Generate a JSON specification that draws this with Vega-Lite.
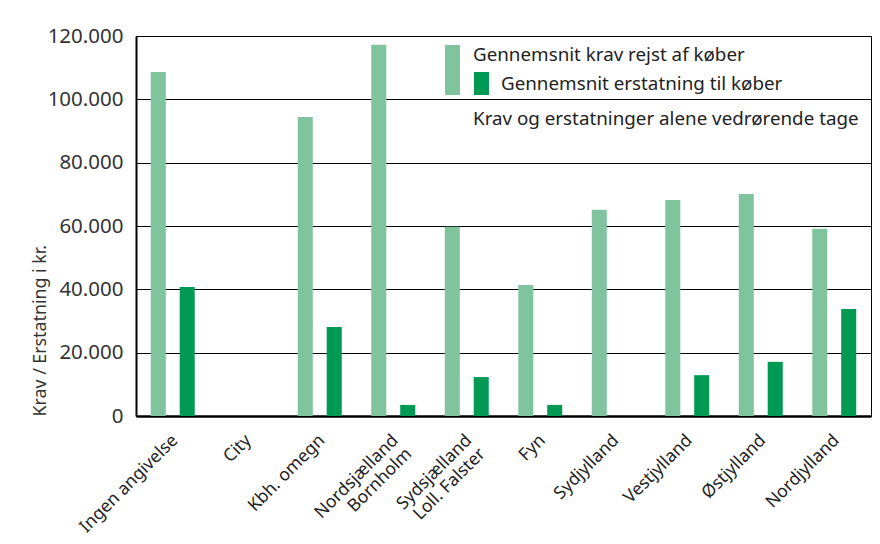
{
  "$schema": "https://vega.github.io/schema/vega-lite/v6.json",
  "autosize": {"type": "none"},
  "padding": {"left": 136, "top": 36, "right": 9, "bottom": 128},
  "width": 735,
  "height": 380,
  "background": "white",
  "config": {
    "font": "Noto Sans",
    "view": {"stroke": "#000", "strokeWidth": 1},
    "axis": {"labelColor": "#333", "titleColor": "#333", "tickSize": 0, "domainColor": "#000"},
    "legend": {
      "orient": "none",
      "labelFontSize": 18.8,
      "labelColor": "#222",
      "labelLimit": 400,
      "symbolSize": 400,
      "symbolStrokeWidth": 0,
      "symbolOpacity": 1
    }
  },
  "data": {
    "values": [
      {"region": "Ingen angivelse", "serie": "Gennemsnit krav rejst af køber", "kr": 108600},
      {"region": "Ingen angivelse", "serie": "Gennemsnit erstatning til køber", "kr": 40700},
      {"region": "City", "serie": "Gennemsnit krav rejst af køber", "kr": 0},
      {"region": "City", "serie": "Gennemsnit erstatning til køber", "kr": 0},
      {"region": "Kbh. omegn", "serie": "Gennemsnit krav rejst af køber", "kr": 94400},
      {"region": "Kbh. omegn", "serie": "Gennemsnit erstatning til køber", "kr": 28100},
      {"region": "Nordsjælland\nBornholm", "serie": "Gennemsnit krav rejst af køber", "kr": 117200},
      {"region": "Nordsjælland\nBornholm", "serie": "Gennemsnit erstatning til køber", "kr": 3500},
      {"region": "Sydsjælland\nLoll. Falster", "serie": "Gennemsnit krav rejst af køber", "kr": 59800},
      {"region": "Sydsjælland\nLoll. Falster", "serie": "Gennemsnit erstatning til køber", "kr": 12300},
      {"region": "Fyn", "serie": "Gennemsnit krav rejst af køber", "kr": 41400},
      {"region": "Fyn", "serie": "Gennemsnit erstatning til køber", "kr": 3500},
      {"region": "Sydjylland", "serie": "Gennemsnit krav rejst af køber", "kr": 65100},
      {"region": "Sydjylland", "serie": "Gennemsnit erstatning til køber", "kr": 0},
      {"region": "Vestjylland", "serie": "Gennemsnit krav rejst af køber", "kr": 68200},
      {"region": "Vestjylland", "serie": "Gennemsnit erstatning til køber", "kr": 12900},
      {"region": "Østjylland", "serie": "Gennemsnit krav rejst af køber", "kr": 70100},
      {"region": "Østjylland", "serie": "Gennemsnit erstatning til køber", "kr": 17100},
      {"region": "Nordjylland", "serie": "Gennemsnit krav rejst af køber", "kr": 59100},
      {"region": "Nordjylland", "serie": "Gennemsnit erstatning til køber", "kr": 33800}
    ]
  },
  "encoding": {
    "x": {
      "field": "region",
      "type": "nominal",
      "sort": null,
      "scale": {"paddingInner": 0, "paddingOuter": 0},
      "axis": {
        "title": null,
        "labelAngle": -45,
        "labelAlign": "right",
        "labelBaseline": "top",
        "labelFontSize": 17.5,
        "labelPadding": 15,
        "labelOffset": -4,
        "labelLineHeight": 19,
        "labelColor": "#222",
        "labelExpr": "split(datum.label, '\\n')",
        "domainWidth": 2.5
      }
    },
    "xOffset": {
      "field": "serie",
      "type": "nominal",
      "scale": {
        "domain": ["Gennemsnit krav rejst af køber", "Gennemsnit erstatning til køber"],
        "paddingInner": 0.48,
        "paddingOuter": 0.51
      }
    },
    "y": {
      "field": "kr",
      "type": "quantitative",
      "scale": {"domain": [0, 120000], "nice": false},
      "axis": {
        "title": "Krav / Erstatning i kr.",
        "titleFontSize": 17.8,
        "titleFontWeight": "normal",
        "titleAngle": -90,
        "titleAlign": "left",
        "titleBaseline": "middle",
        "titleX": -96,
        "titleY": 380,
        "values": [0, 20000, 40000, 60000, 80000, 100000, 120000],
        "labelExpr": "replace(format(datum.value, ','), ',', '.')",
        "labelFontSize": 20.5,
        "labelPadding": 13,
        "grid": true,
        "gridColor": "#000",
        "gridWidth": 1,
        "gridOpacity": 1,
        "domainWidth": 2
      }
    }
  },
  "layer": [
    {
      "transform": [{"filter": "datum.serie === 'Gennemsnit krav rejst af køber'"}],
      "mark": {"type": "bar"},
      "encoding": {
        "color": {
          "field": "serie",
          "type": "nominal",
          "scale": {"domain": ["Gennemsnit krav rejst af køber"], "range": ["#80c49e"]},
          "legend": {
            "title": null,
            "legendX": 306.5,
            "legendY": 8.5,
            "labelOffset": 10.5,
            "symbolType": "M-0.75,-0.95H0.75V4.05H-0.75Z"
          }
        }
      }
    },
    {
      "transform": [{"filter": "datum.serie === 'Gennemsnit erstatning til køber'"}],
      "mark": {"type": "bar"},
      "encoding": {
        "color": {
          "field": "serie",
          "type": "nominal",
          "scale": {"domain": ["Gennemsnit erstatning til køber"], "range": ["#009a55"]},
          "legend": {
            "title": "Krav og erstatninger alene vedrørende tage",
            "titleOrient": "bottom",
            "titleFontSize": 18.8,
            "titleFontWeight": "normal",
            "titleColor": "#222",
            "titlePadding": 14,
            "titleLimit": 500,
            "legendX": 335.5,
            "legendY": 37.5,
            "labelOffset": 9.5,
            "symbolType": "M-0.75,-1.15H0.75V1.15H-0.75Z",
            "encode": {"title": {"update": {"dx": {"value": 1.5}}}}
          }
        }
      }
    }
  ],
  "resolve": {"scale": {"color": "independent"}, "legend": {"color": "independent"}}
}
